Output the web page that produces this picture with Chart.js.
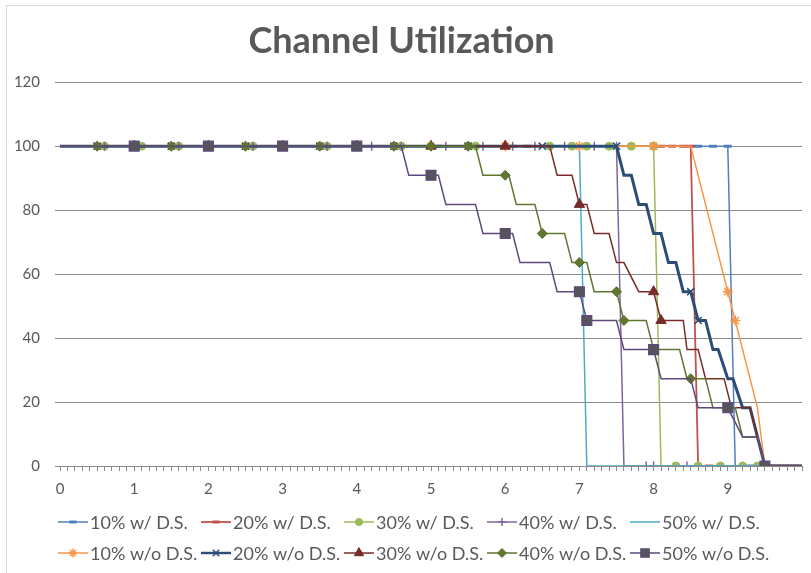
<!DOCTYPE html>
<html>
<head>
<meta charset="utf-8">
<script src="https://cdn.jsdelivr.net/npm/chart.js@4/dist/chart.umd.min.js"></script>
<style>
  html, body { margin: 0; padding: 0; background: #ffffff; }
  #wrap { width: 811px; height: 573px; position: relative; }
</style>
</head>
<body>
<div id="wrap"><canvas id="chart" width="811" height="573"></canvas></div>
<script>
// ---- Series names (legend order) ----
const seriesNames = [
  '10% w/ D.S.', '20% w/ D.S.', '30% w/ D.S.', '40% w/ D.S.', '50% w/ D.S.',
  '10% w/o D.S.', '20% w/o D.S.', '30% w/o D.S.', '40% w/o D.S.', '50% w/o D.S.'
];

// ---- Axis ticks ----
const yTicks = [0, 20, 40, 60, 80, 100, 120];
const xLabels = [0, 1, 2, 3, 4, 5, 6, 7, 8, 9];

// ---- With D.S. : time samples (x), utilization (y), sampled points that carry a marker ----
const x10w = [0, 5.1, 6.1, 7.1, 8.6, 8.8, 9.0, 9.1, 9.3, 10];
const y10w = [100, 100, 100, 100, 100, 100, 100, 0, 0, 0];
const m10w = [5.1, 6.1, 7.1, 8.6, 8.8, 9.0, 9.3];

const x20w = [0, 6.3, 8.1, 8.25, 8.4, 8.5, 8.6, 8.75, 9.55, 9.65, 9.75, 9.85, 9.95, 10];
const y20w = [100, 100, 100, 100, 100, 100, 0, 0, 0, 0, 0, 0, 0, 0];
const m20w = [6.3, 8.1, 8.25, 8.4, 8.5, 8.75, 9.55, 9.65, 9.75, 9.85, 9.95];

const x30w = [0, 0.6, 1.1, 1.6, 2.6, 3.6, 4.6, 5.6, 6.6, 6.9, 7.1, 7.4, 7.7, 8.0, 8.1, 8.3, 8.6, 8.9, 9.2, 9.4, 10];
const y30w = [100, 100, 100, 100, 100, 100, 100, 100, 100, 100, 100, 100, 100, 100, 0, 0, 0, 0, 0, 0, 0];
const m30w = [0.6, 1.1, 1.6, 2.6, 3.6, 4.6, 5.6, 6.6, 6.9, 7.1, 7.4, 7.7, 8.0, 8.3, 8.6, 8.9, 9.2, 9.4];

const x40w = [0, 0.6, 1.6, 2.6, 3.6, 4.2, 4.6, 5.2, 5.7, 6.1, 6.4, 6.8, 7.2, 7.5, 7.6, 7.9, 8.0, 8.45, 10];
const y40w = [100, 100, 100, 100, 100, 100, 100, 100, 100, 100, 100, 100, 100, 100, 0, 0, 0, 0, 0];
const m40w = [0.6, 1.6, 2.6, 3.6, 4.2, 4.6, 5.2, 5.7, 6.1, 6.4, 6.8, 7.2, 7.5, 7.9, 8.0, 8.45];

const x50w = [0, 7.0, 7.1, 10];
const y50w = [100, 100, 0, 0];
const m50w = [];

// ---- Without D.S. ----
const x10wo = [0, 0.5, 1.5, 2.5, 3.5, 4.5, 5.0, 5.5, 6.0, 6.5, 7.0, 8.0, 8.5, 9.0, 9.1, 9.4, 9.5, 10];
const y10wo = [100, 100, 100, 100, 100, 100, 100, 100, 100, 100, 100, 100, 100, 54.5, 45.5, 18.2, 0, 0];
const m10wo = [0.5, 1.5, 2.5, 3.5, 4.5, 5.0, 5.5, 6.0, 7.0, 8.0, 9.0, 9.1];

const x20wo = [0, 0.5, 1.5, 2.5, 3.5, 4.5, 5.5, 6.5, 7.5,
  7.6, 7.7, 7.8, 7.9, 8.0, 8.1, 8.2, 8.3, 8.4, 8.5,
  8.6, 8.7, 8.8, 8.87, 9.0, 9.07, 9.2, 9.3, 9.5, 10];
const y20wo = [100, 100, 100, 100, 100, 100, 100, 100, 100,
  90.9, 90.9, 81.8, 81.8, 72.7, 72.7, 63.6, 63.6, 54.5, 54.5,
  45.5, 45.5, 36.4, 36.4, 27.3, 27.3, 18.2, 18.2, 0, 0];
const m20wo = [0.5, 1.5, 2.5, 3.5, 4.5, 5.5, 6.5, 7.5, 8.5, 8.6];

const x30wo = [0, 1, 2, 3, 4, 5, 6, 6.6,
  6.7, 6.9, 7.0, 7.1, 7.2, 7.4, 7.5, 7.6, 7.8, 8.0,
  8.1, 8.4, 8.45, 8.6, 8.7, 8.95, 9.05, 9.3, 9.5, 10];
const y30wo = [100, 100, 100, 100, 100, 100, 100, 100,
  90.9, 90.9, 81.8, 81.8, 72.7, 72.7, 63.6, 63.6, 54.5, 54.5,
  45.5, 45.5, 36.4, 36.4, 27.3, 27.3, 18.2, 18.2, 0, 0];
const m30wo = [1, 2, 3, 4, 5, 6, 7.0, 8.0, 8.1];

const x40wo = [0, 0.5, 1.5, 2.5, 3.5, 4.5, 5.0, 5.5, 5.6,
  5.7, 6.0, 6.05, 6.15, 6.4, 6.5, 6.8, 6.9, 7.0, 7.1,
  7.2, 7.5, 7.6, 7.9, 8.0, 8.35, 8.45, 8.5, 8.7, 8.8,
  9.1, 9.2, 9.4, 9.5, 10];
const y40wo = [100, 100, 100, 100, 100, 100, 100, 100, 100,
  90.9, 90.9, 90.9, 81.8, 81.8, 72.7, 72.7, 63.6, 63.6, 63.6,
  54.5, 54.5, 45.5, 45.5, 36.4, 36.4, 27.3, 27.3, 27.3, 18.2,
  18.2, 9.1, 9.1, 0, 0];
const m40wo = [0.5, 1.5, 2.5, 3.5, 4.5, 5.0, 5.5, 6.0, 6.5, 7.0, 7.5, 7.6, 8.5];

const x50wo = [0, 1, 2, 3, 4, 4.6, 4.7, 5.0, 5.1, 5.2, 5.6, 5.7, 6.0, 6.1, 6.2,
  6.6, 6.7, 7.0, 7.1, 7.5, 7.6, 8.0, 8.1, 8.5, 8.6, 9.0, 9.2, 9.4, 9.5, 10];
const y50wo = [100, 100, 100, 100, 100, 100, 90.9, 90.9, 90.9, 81.8, 81.8, 72.7, 72.7, 72.7, 63.6,
  63.6, 54.5, 54.5, 45.5, 45.5, 36.4, 36.4, 27.3, 27.3, 18.2, 18.2, 9.1, 9.1, 0, 0];
const m50wo = [1, 2, 3, 4, 5.0, 6.0, 7.0, 7.1, 8.0, 9.0, 9.5];

const seriesX = [x10w, x20w, x30w, x40w, x50w, x10wo, x20wo, x30wo, x40wo, x50wo];
const seriesY = [y10w, y20w, y30w, y40w, y50w, y10wo, y20wo, y30wo, y40wo, y50wo];
const seriesMarks = [m10w, m20w, m30w, m40w, m50w, m10wo, m20wo, m30wo, m40wo, m50wo];

// ---- Look of each series ----
const seriesStyle = [
  { line: '#4F81BD', width: 1.5, shape: 'line',     r: 4,   fill: '#4F81BD', edge: '#4F81BD', edgeW: 3 },
  { line: '#C0504D', width: 1.8, shape: 'line',     r: 4,   fill: '#C0504D', edge: '#C0504D', edgeW: 3 },
  { line: '#9BBB59', width: 1.5, shape: 'circle',   r: 4,   fill: '#9BBB59', edge: '#9BBB59', edgeW: 1 },
  { line: '#8064A2', width: 1.5, shape: 'cross',    r: 4.5, fill: '#8064A2', edge: '#8064A2', edgeW: 1.5 },
  { line: '#4BACC6', width: 1.5, shape: 'circle',   r: 0,   fill: '#4BACC6', edge: '#4BACC6', edgeW: 1 },
  { line: '#F79646', width: 1.5, shape: 'star',     r: 5,   fill: '#F79646', edge: '#F79646', edgeW: 1.5 },
  { line: '#2C4D75', width: 3,   shape: 'crossRot', r: 5,   fill: '#2C4D75', edge: '#2C4D75', edgeW: 1.5 },
  { line: '#772C2A', width: 1.5, shape: 'triangle', r: 6,   fill: '#772C2A', edge: '#772C2A', edgeW: 1 },
  { line: '#5F7530', width: 1.5, shape: 'rectRot',  r: 5,   fill: '#5F7530', edge: '#5F7530', edgeW: 1 },
  { line: '#5F497A', width: 1.5, shape: 'rect',     r: 7,   fill: '#55535C', edge: '#5F497A', edgeW: 1.2 }
];

const TEXT = '#595959';
const GRID = '#8C8C8C';
const FONT = 'Lato';

function hasMark(list, x) {
  return list.some(m => Math.abs(m - x) < 1e-6);
}

const datasets = seriesNames.map((name, i) => {
  const st = seriesStyle[i];
  const marks = seriesMarks[i];
  return {
    label: name,
    data: seriesX[i].map((x, k) => ({ x: x, y: seriesY[i][k] })),
    showLine: true,
    tension: 0,
    fill: false,
    borderColor: st.line,
    borderWidth: st.width,
    backgroundColor: st.fill,
    pointStyle: st.shape,
    pointBackgroundColor: st.fill,
    pointBorderColor: st.edge,
    pointBorderWidth: st.edgeW,
    pointRadius: ctx => (ctx.raw && hasMark(marks, ctx.raw.x)) ? st.r : 0,
    pointHoverRadius: ctx => (ctx.raw && hasMark(marks, ctx.raw.x)) ? st.r : 0,
    order: seriesNames.length - 1 - i   // later series drawn on top
  };
});

// Light frame around the chart and a white background
const framePlugin = {
  id: 'frame',
  beforeDraw(chart) {
    const ctx = chart.ctx;
    ctx.save();
    ctx.fillStyle = '#ffffff';
    ctx.fillRect(0, 0, chart.width, chart.height);
    ctx.strokeStyle = '#D9D9D9';
    ctx.lineWidth = 1;
    ctx.strokeRect(6.5, 5.5, chart.width + 20, chart.height + 20);
    ctx.restore();
  }
};

// Two-row legend laid out in fixed columns, line sample with marker in its middle
const gridLegendPlugin = {
  id: 'gridLegend',
  afterDraw(chart) {
    const ctx = chart.ctx;
    const colStart = 90, colStep = 143, rowY = [522, 553];
    ctx.save();
    chart.data.datasets.forEach((ds, i) => {
      const st = seriesStyle[i];
      const tx = colStart + colStep * (i % 5);
      const ty = rowY[Math.floor(i / 5)];
      ctx.strokeStyle = st.line;
      ctx.lineWidth = Math.min(st.width, 2.5);
      ctx.beginPath();
      ctx.moveTo(tx - 32, ty);
      ctx.lineTo(tx - 2, ty);
      ctx.stroke();
      if (st.r > 0) {
        ctx.fillStyle = st.fill;
        ctx.strokeStyle = st.edge;
        ctx.lineWidth = st.edgeW;
        Chart.helpers.drawPoint(ctx, {
          pointStyle: st.shape,
          radius: st.shape === 'rect' ? st.r * 0.85 : st.r * 0.9,
          rotation: 0,
          borderWidth: st.edgeW
        }, tx - 17, ty);
      }
      ctx.fillStyle = TEXT;
      ctx.font = '18px ' + FONT;
      ctx.textAlign = 'left';
      ctx.textBaseline = 'middle';
      ctx.fillText(ds.label, tx, ty + 1);
    });
    ctx.restore();
  }
};

function build() {
  new Chart(document.getElementById('chart'), {
    type: 'scatter',
    data: { datasets: datasets },
    plugins: [framePlugin, gridLegendPlugin],
    options: {
      responsive: false,
      animation: false,
      layout: { padding: { top: 0, left: 0, right: 8, bottom: 66 } },
      plugins: {
        legend: { display: false },
        tooltip: { enabled: false },
        title: {
          display: true,
          text: 'Channel Utilization',
          color: TEXT,
          font: { family: FONT, size: 36, weight: 'bold' },
          padding: { top: 20, bottom: 19 }
        }
      },
      scales: {
        x: {
          type: 'linear',
          min: 0,
          max: 10,
          ticks: {
            stepSize: 0.1,
            autoSkip: false,
            maxRotation: 0,
            padding: 9,
            color: TEXT,
            font: { family: FONT, size: 15 },
            callback: (v) => {
              const r = Math.round(v);
              return (Math.abs(v - r) < 1e-6 && xLabels.includes(r)) ? String(r) : '';
            }
          },
          grid: { drawOnChartArea: false, drawTicks: true, tickLength: 5, color: GRID },
          border: { display: true, color: GRID }
        },
        y: {
          min: 0,
          max: 120,
          afterBuildTicks: (scale) => { scale.ticks = yTicks.map(v => ({ value: v })); },
          afterFit: (scale) => { scale.width = 60; },
          ticks: {
            padding: 15,
            color: TEXT,
            font: { family: FONT, size: 15 }
          },
          grid: { color: GRID, tickLength: 5, drawTicks: true },
          border: { display: false }
        }
      }
    }
  });
}

const fontLoads = [
  document.fonts.load('15px ' + FONT),
  document.fonts.load('18px ' + FONT),
  document.fonts.load('bold 36px ' + FONT)
];
Promise.all(fontLoads).catch(() => {}).then(build);
</script>
</body>
</html>
